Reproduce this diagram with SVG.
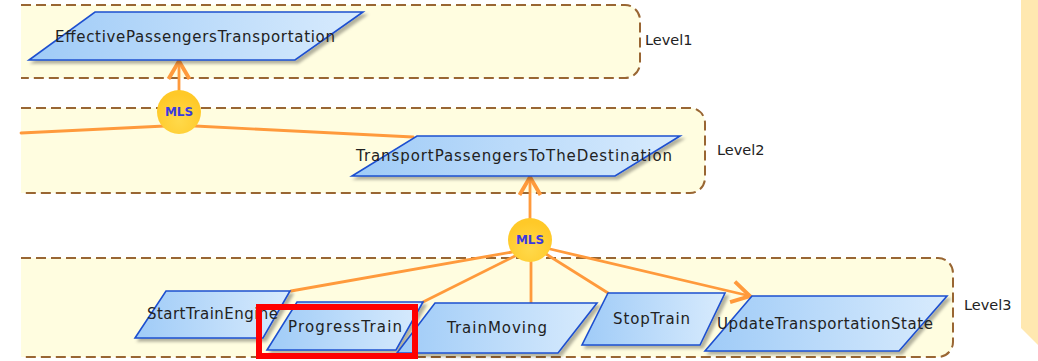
<svg xmlns="http://www.w3.org/2000/svg" width="1038" height="361" viewBox="0 0 1038 361">
<style>
.band{fill:#FFFDE0;stroke:#996633;stroke-width:2;stroke-dasharray:10,5}
.node{fill:url(#ng);stroke:#1E50D0;stroke-width:1.6;filter:url(#sh)}
.lbl{font-family:"DejaVu Sans",sans-serif;font-size:15px;fill:#222}
.lvl{font-family:"DejaVu Sans",sans-serif;font-size:14.5px;fill:#222}
.conn{stroke:#FF9A3C;stroke-width:2.8;fill:none;stroke-linecap:round}
.mls{fill:url(#mg)}
.mlst{font-family:"DejaVu Sans",sans-serif;font-size:12px;font-weight:bold;fill:#3A3AE0;text-anchor:middle}
</style>
<defs>
<linearGradient id="ng" x1="0" y1="0" x2="1" y2="0">
<stop offset="0" stop-color="#9FCBF7"/>
<stop offset="1" stop-color="#D8EBFD"/>
</linearGradient>
<radialGradient id="mg" cx="0.5" cy="0.7" r="0.6">
<stop offset="0" stop-color="#FFD94A"/>
<stop offset="1" stop-color="#FFC928"/>
</radialGradient>
<filter id="sh" x="-10%" y="-20%" width="130%" height="160%">
<feDropShadow dx="3" dy="3" stdDeviation="1.8" flood-color="#000" flood-opacity="0.3"/>
</filter>
<marker id="arr" markerUnits="userSpaceOnUse" markerWidth="30" markerHeight="30" viewBox="-16 -10 20 20" refX="0" refY="0" orient="auto">
<path d="M-12,-7 L0,0 L-12,7" fill="none" stroke="#FF9A3C" stroke-width="2.6" stroke-linejoin="miter"/>
</marker>
</defs>
<rect x="0" y="0" width="1038" height="361" fill="#FFFFFF"/>
<polygon points="1021,0 1038,0 1038,345 1021,328" fill="#FFE8B0"/>

<g id="level1">
<path d="M21,5 H625 A15,15 0 0 1 640,20 V63 A15,15 0 0 1 625,78 H21 Z" style="fill:#FFFDE0;stroke:none"/>
<path class="band" d="M21,5 H625 A15,15 0 0 1 640,20 V63 A15,15 0 0 1 625,78 H21" style="fill:none"/>
<text class="lvl" x="645" y="45">Level1</text>
</g>
<g id="level2">
<path d="M21,108 H690 A15,15 0 0 1 705,123 V178 A15,15 0 0 1 690,193 H21 Z" style="fill:#FFFDE0;stroke:none"/>
<path class="band" d="M21,108 H690 A15,15 0 0 1 705,123 V178 A15,15 0 0 1 690,193 H21" style="fill:none"/>
<text class="lvl" x="717" y="155">Level2</text>
</g>
<g id="level3">
<path d="M21,258 H938 A15,15 0 0 1 953,273 V342 A15,15 0 0 1 938,357 H21 Z" style="fill:#FFFDE0;stroke:none"/>
<path class="band" d="M21,258 H938 A15,15 0 0 1 953,273 V342 A15,15 0 0 1 938,357 H21" style="fill:none"/>
<text class="lvl" x="964" y="310">Level3</text>
</g>

<g id="connectors">
<line class="conn" x1="179" y1="92" x2="179" y2="61" marker-end="url(#arr)"/>
<path class="conn" d="M21,133 L165,126"/>
<path class="conn" d="M195,126 L413,137"/>
<line class="conn" x1="530" y1="220" x2="530" y2="177" marker-end="url(#arr)"/>
<path class="conn" d="M512,252 L291,291"/>
<path class="conn" d="M515,256 L423,302"/>
<path class="conn" d="M531,262 L531,303"/>
<path class="conn" d="M546,254 L608,293"/>
<line class="conn" x1="550" y1="249" x2="750" y2="296" marker-end="url(#arr)"/>
</g>

<g id="mls1">
<circle class="mls" cx="179" cy="112" r="22"/>
<text class="mlst" x="179" y="116">MLS</text>
</g>
<g id="mls2">
<circle class="mls" cx="530" cy="240" r="22"/>
<text class="mlst" x="530" y="244">MLS</text>
</g>

<g id="n-effective">
<polygon class="node" points="95,12 363,12 295,60 29,60"/>
<text class="lbl" x="55" y="42" textLength="280" lengthAdjust="spacing">EffectivePassengersTransportation</text>
</g>
<g id="n-transport">
<polygon class="node" points="417,136 680,136 615,176 352,176"/>
<text class="lbl" x="356" y="161" textLength="316" lengthAdjust="spacing">TransportPassengersToTheDestination</text>
</g>
<g id="n-start">
<polygon class="node" points="166,291 290,291 263,338 135,338"/>
<text class="lbl" x="147" y="319" textLength="131" lengthAdjust="spacing">StartTrainEngine</text>
</g>
<g id="n-progress">
<polygon class="node" points="297,302 423,302 396,350 267,350"/>
<text class="lbl" x="288" y="332" textLength="114" lengthAdjust="spacing">ProgressTrain</text>
</g>
<g id="n-moving">
<polygon class="node" points="435,303 597,303 558,353 397,353"/>
<text class="lbl" x="447" y="333" textLength="100" lengthAdjust="spacing">TrainMoving</text>
</g>
<g id="n-stop">
<polygon class="node" points="608,293 725,293 700,345 582,345"/>
<text class="lbl" x="613" y="324" textLength="77" lengthAdjust="spacing">StopTrain</text>
</g>
<g id="n-update">
<polygon class="node" points="752,296 947,296 899,351 705,351"/>
<text class="lbl" x="717" y="329" textLength="216" lengthAdjust="spacing">UpdateTransportationState</text>
</g>

<rect id="highlight" x="259" y="307" width="156" height="49" fill="none" stroke="#FF0000" stroke-width="6"/>
</svg>
